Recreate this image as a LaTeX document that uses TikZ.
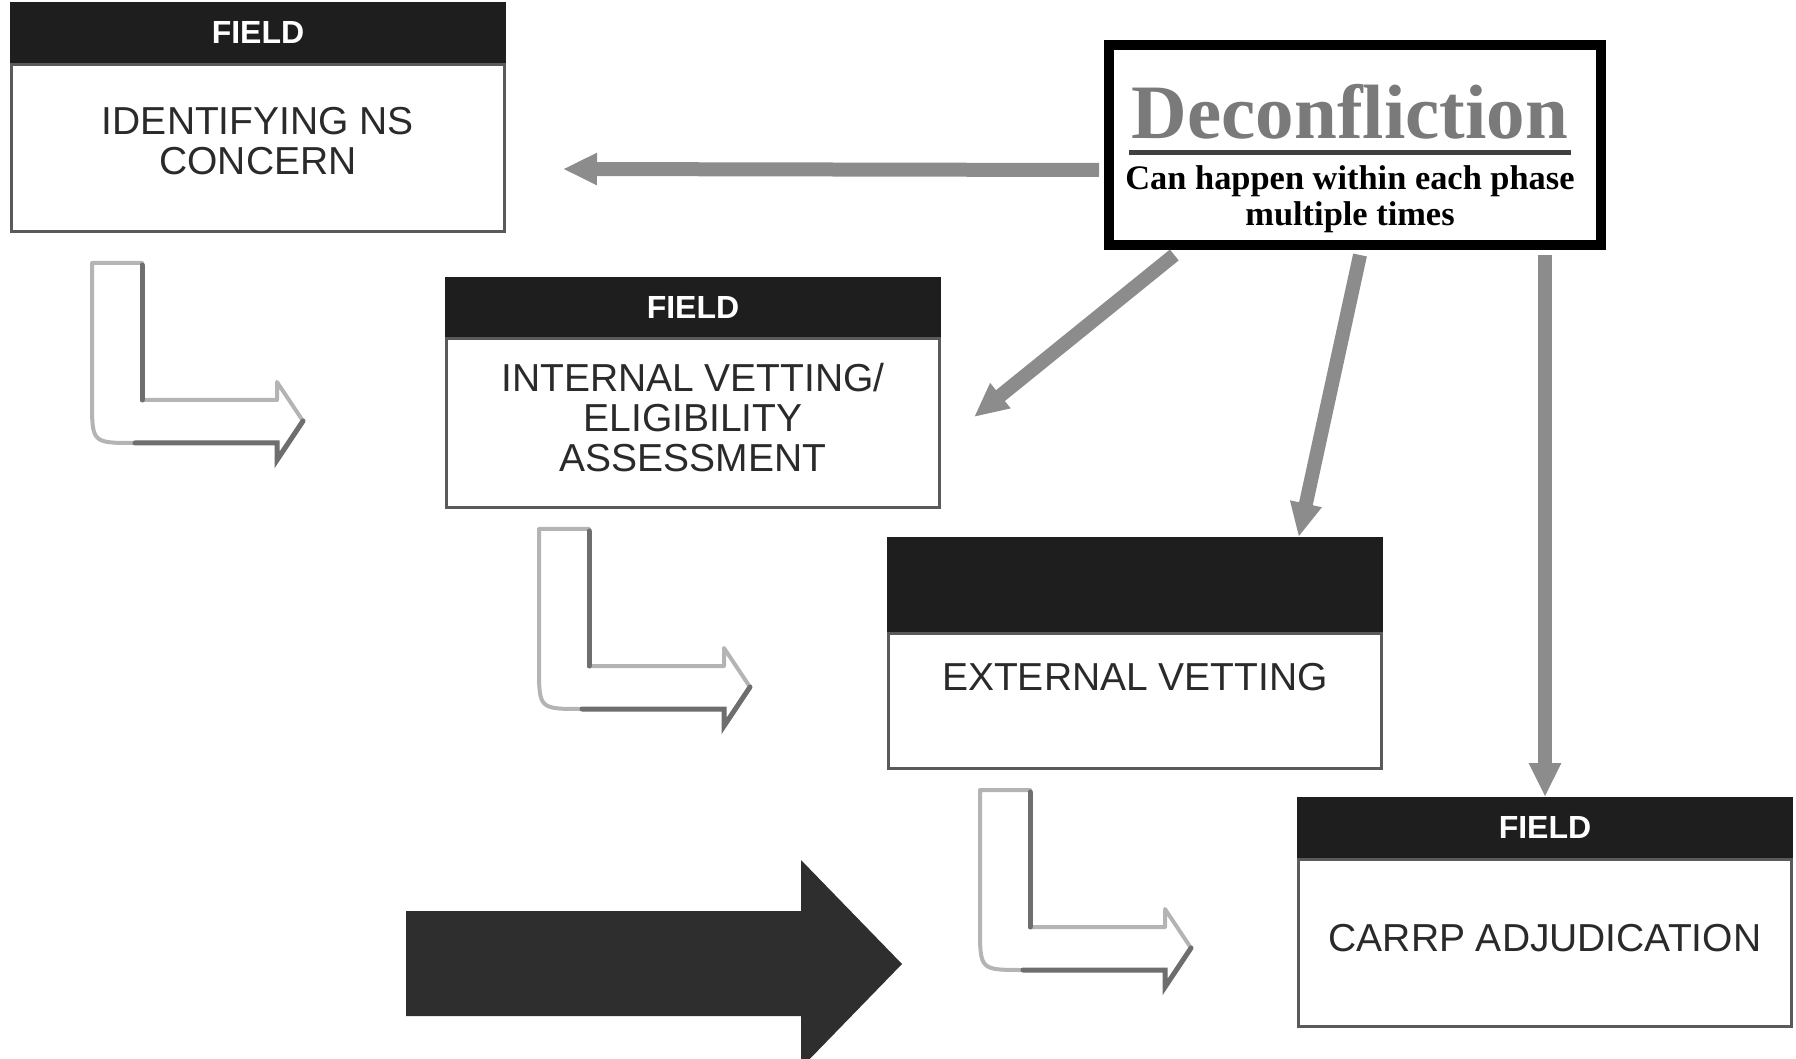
\documentclass[tikz,border=0pt]{standalone}
\usepackage{fontspec}
\setmainfont{Liberation Serif}
\setsansfont{Liberation Sans}
\usetikzlibrary{arrows.meta, calc, positioning}
\definecolor{chead}{HTML}{1E1E1E}
\definecolor{cedge}{HTML}{5A5A5A}
\definecolor{ctext}{HTML}{2A2A2A}
\definecolor{cconn}{HTML}{8C8C8C}
\definecolor{cbend}{HTML}{B4B4B4}
\definecolor{cbendsh}{HTML}{6E6E6E}
\definecolor{cbig}{HTML}{2E2E2E}
\definecolor{ctitle}{HTML}{7A7A7A}

\begin{document}
\begin{tikzpicture}[
  x=0.5pt, y=-0.5pt,
  phasebox/.style={
    rectangle, draw=cedge, fill=white, line width=1.5pt,
    minimum width=246.5pt, inner sep=0pt
  },
  phasehead/.style={
    rectangle, draw=chead, fill=chead, line width=1.5pt,
    minimum width=246.5pt, inner sep=0pt, text=white,
    font=\sffamily\bfseries\fontsize{16}{18}\selectfont
  },
  phasetext/.style={
    text=ctext, align=center, inner sep=0pt,
    font=\sffamily\fontsize{19.5}{20}\selectfont
  },
  deconbox/.style={
    rectangle, draw=black, fill=white, line width=5pt,
    minimum width=246pt, minimum height=100pt, inner sep=0pt
  },
  conn/.style={draw=cconn, line width=7pt, -{Triangle[length=17pt, width=15pt]}},
  bendarrow/.style={draw=cbend, line width=2pt, fill=white, line join=round},
  bendshade/.style={draw=cbendsh, line width=2.5pt, line cap=round},
  bigarrow/.style={fill=cbig, draw=none},
  font=\sffamily
]
\useasboundingbox (0,0) rectangle (1796,1059);

% ============================================================
% Bent hollow arrows between the phases
\foreach \dx/\dy in {0/0, 447/266, 888/527} {
  \draw[bendarrow, shift={(\dx,\dy)}] (92,263) -- (142,263) -- (142,400) -- (277,400)
    -- (277,382) -- (303,421) -- (277,460) -- (277,443) -- (135,443)
    .. controls (92,443) .. (92,400) -- cycle;
  \draw[bendshade, shift={(\dx,\dy)}] (142,265) -- (142,400);
  \draw[bendshade, shift={(\dx,\dy)}] (135,443) -- (277,443) -- (277,460) -- (303,421);
}

% Big solid arrow bottom left
\fill[bigarrow] (406,911) -- (801,911) -- (801,860) -- (902,964) -- (801,1068)
  -- (801,1016) -- (406,1016) -- cycle;

% ============================================================
% Phase boxes (body + dark header)
\node[phasebox, minimum height=83.5pt] (identify) at (258, 148) {};
\node[phasehead, minimum height=29pt, above=0pt of identify] (identifyhd) {FIELD};
\node[phasetext] (identifytx) at (258, 141) {IDENTIFYING NS\\CONCERN};

\node[phasebox, minimum height=84.5pt] (vetin) at (693, 423) {};
\node[phasehead, minimum height=28.5pt, above=0pt of vetin] (vetinhd) {FIELD};
\node[phasetext] (vetintx) at (693, 418) {INTERNAL VETTING/\\ELIGIBILITY\\ASSESSMENT};

\node[phasebox, minimum height=67.5pt] (vetex) at (1135, 701) {};
\node[phasehead, minimum height=46pt, above=0pt of vetex] (vetexhd) {};
\node[phasetext] (vetextx) at (1135, 677) {EXTERNAL VETTING};

\node[phasebox, minimum height=83.5pt] (carrp) at (1545, 943) {};
\node[phasehead, minimum height=29pt, above=0pt of carrp] (carrphd) {FIELD};
\node[phasetext] (carrptx) at (1545, 938) {CARRP ADJUDICATION};

% ============================================================
% Deconfliction box
\node[deconbox] (decon) at (1355, 145) {};
\node[text=ctitle, inner sep=0pt, font=\rmfamily\bfseries\fontsize{38.5}{40}\selectfont]
  (dtitle) at (1350, 112) {Deconfliction};
\draw[black!75, line width=2.5pt] ($(dtitle.base west)+(-2,14)$) -- ($(dtitle.base east)+(2,14)$);
\node[align=center, inner sep=0pt, font=\rmfamily\bfseries\fontsize{17.2}{18}\selectfont]
  (dsub) at (1350, 199) {Can happen within each phase\\multiple times};

% Gray connectors out of the deconfliction box
\coordinate (identend) at ($(identify.east)+(57,21)$);
\coordinate (vetinend) at ($(vetin.east)+(33,-6)$);
\draw[conn] ($(decon.west)+(-5,25)$) -- (identend);
\draw[conn] ($(decon.south west)!0.14!(decon.south east)+(0,5)$) -- (vetinend);
\draw[conn] ($(decon.south west)!0.51!(decon.south east)+(0,5)$)
  -- ($(vetexhd.north west)!0.83!(vetexhd.north east)$);
\draw[conn] ($(decon.south -| carrphd.north)+(0,5)$) -- (carrphd.north);

\end{tikzpicture}
\end{document}
